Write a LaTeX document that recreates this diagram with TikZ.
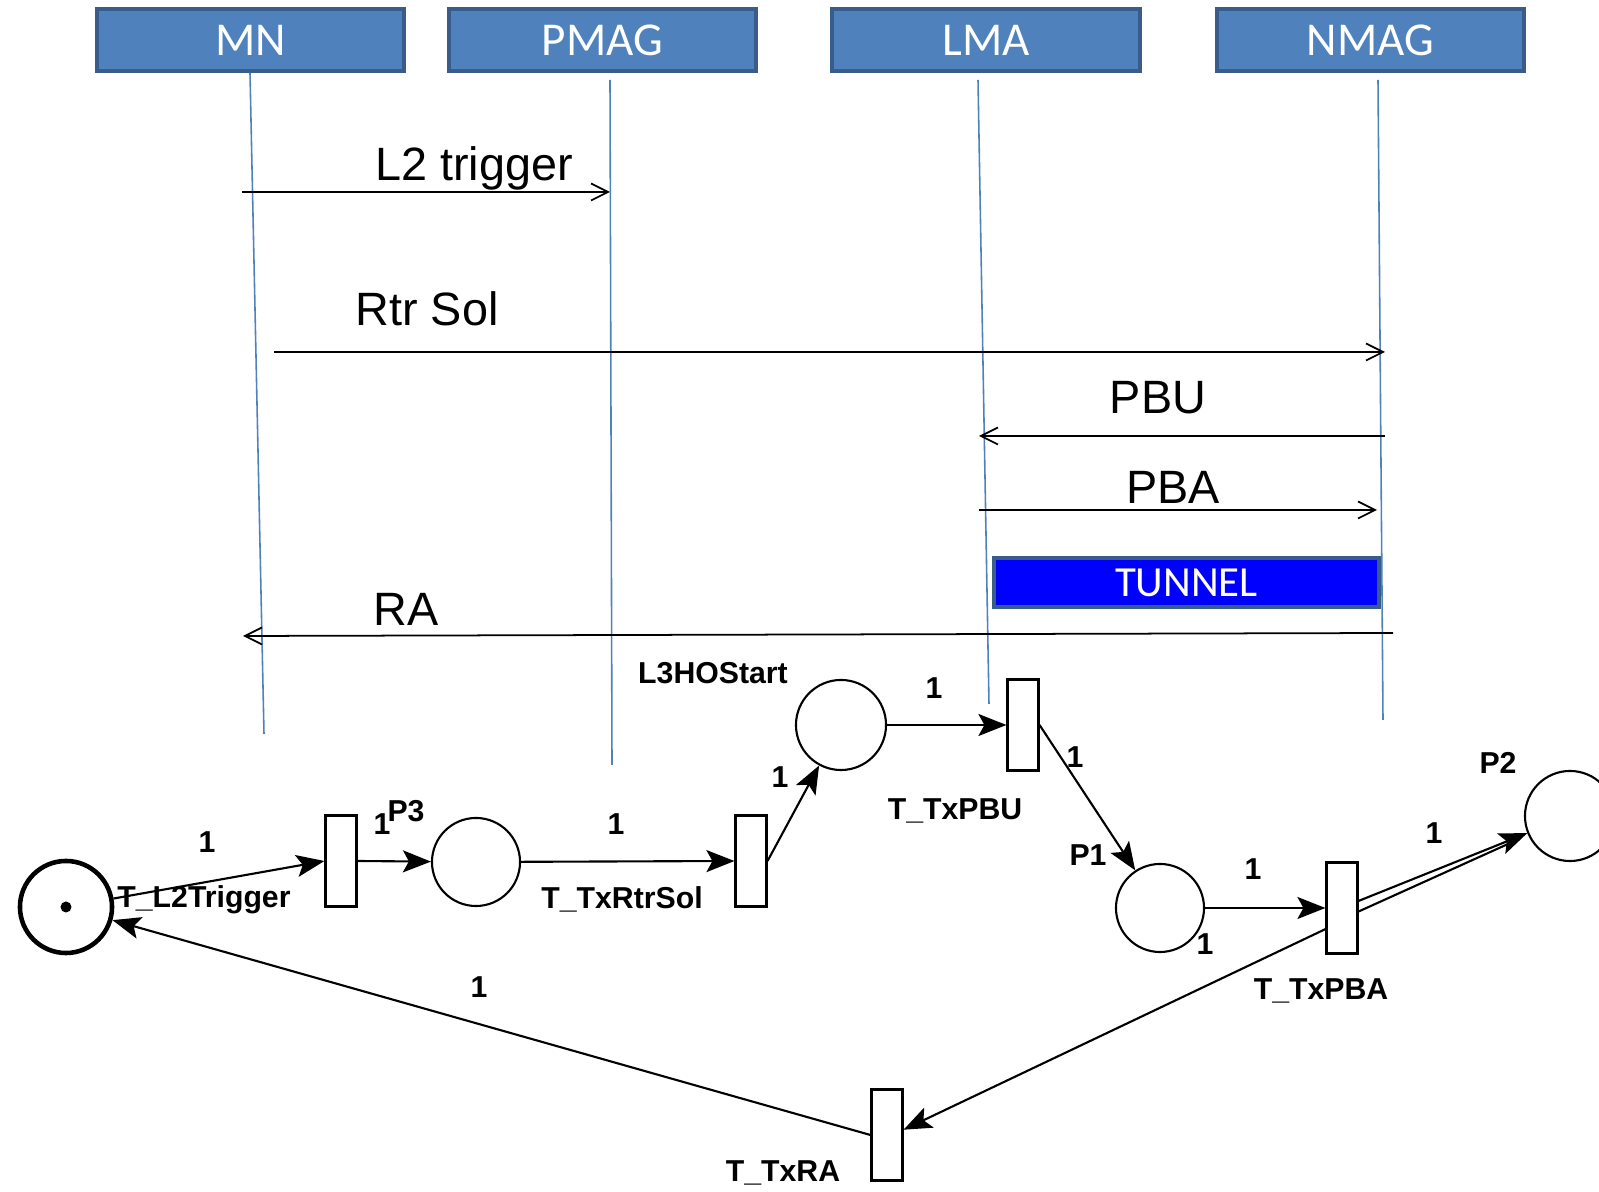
\documentclass[tikz,border=0pt]{standalone}
\usepackage{fontspec}
\setmainfont{Liberation Sans}
\newfontfamily\hdrfont{Carlito}
\usetikzlibrary{arrows.meta}
\definecolor{hdrblue}{RGB}{79,129,189}
\definecolor{hdrline}{RGB}{56,93,138}
\definecolor{tunnelblue}{RGB}{0,0,255}
\tikzset{
  header/.style={draw=hdrline,line width=1.1pt,fill=hdrblue,text=white,
    minimum width=3.07cm,minimum height=0.62cm,inner sep=0pt,
    font=\hdrfont\fontsize{13.4}{16}\selectfont},
  lifeline/.style={hdrblue,line width=0.45pt},
  message/.style={line width=0.5pt,-{Straight Barb[length=1.7mm,width=1.7mm]}},
  msglabel/.style={font=\fontsize{13.3}{16}\selectfont,inner sep=0pt},
  place/.style={circle,draw,line width=0.6pt,minimum size=0.88cm,inner sep=0pt},
  transition/.style={rectangle,draw,line width=0.6pt,minimum width=0.31cm,
    minimum height=0.91cm,inner sep=0pt},
  netarc/.style={line width=0.6pt,-{Stealth[length=2.8mm,width=2.2mm,inset=0.6mm]}},
  netlabel/.style={font=\bfseries\fontsize{8.6}{10}\selectfont,inner sep=0pt},
}
\begin{document}
\begin{tikzpicture}[x=0.01cm,y=-0.01cm]
  \useasboundingbox (0,0) rectangle (1599,1192);
  \clip (0,0) rectangle (1599,1192);

  \node [header] (MN) at (250.5,40) {MN};
  \node [header] (PMAG) at (602.5,40) {PMAG};
  \node [header] (LMA) at (986,40) {LMA};
  \node [header] (NMAG) at (1370.5,40) {NMAG};

  \coordinate (MN top) at (250,73);
  \coordinate (MN bottom) at (264,734);
  \coordinate (PMAG top) at (610,80);
  \coordinate (PMAG bottom) at (612,765);
  \coordinate (LMA top) at (978,80);
  \coordinate (LMA bottom) at (989,704);
  \coordinate (NMAG top) at (1378,80);
  \coordinate (NMAG bottom) at (1383,720);
  \foreach \n in {MN,PMAG,LMA,NMAG}{
    \draw [lifeline] (\n\space top) -- (\n\space bottom);
  }

  \coordinate (L2 from) at (242,192);
  \coordinate (L2 to) at (610,192);
  \coordinate (Sol from) at (274,352);
  \coordinate (Sol to) at (1385,352);
  \coordinate (PBU from) at (1385,436);
  \coordinate (PBU to) at (979,436);
  \coordinate (PBA from) at (979,510);
  \coordinate (PBA to) at (1377,510);
  \coordinate (RA from) at (1393,633);
  \coordinate (RA to) at (243,636);

  \draw [message] (L2 from) -- (L2 to);
  \node [msglabel] (L2 label) at (474,168) {L2 trigger};
  \draw [message] (Sol from) -- (Sol to);
  \node [msglabel] (Sol label) at (427,309) {Rtr Sol};
  \draw [message] (PBU from) -- (PBU to);
  \node [msglabel] (PBU label) at (1158,398) {PBU};
  \draw [message] (PBA from) -- (PBA to);
  \node [msglabel] (PBA label) at (1173,487) {PBA};
  \draw [message] (RA from) -- (RA to);
  \node [msglabel] (RA label) at (406,609) {RA};

  \node [header,fill=tunnelblue,minimum width=3.85cm,minimum height=0.49cm,
    font=\hdrfont\fontsize{12.2}{14}\selectfont] (TUNNEL) at (1186.5,582.5) {TUNNEL};

  \node [place,line width=1.3pt,minimum size=0.92cm] (P0) at (66,907) {};
  \fill (P0.center) circle [radius=0.055cm];
  \node [transition] (TL2) at (341,861) {};
  \node [place] (P3) at (476,862) {};
  \node [transition] (TRtrSol) at (751,861) {};
  \node [place,minimum size=0.9cm] (L3HO) at (841,725) {};
  \node [transition] (TPBU) at (1023,725) {};
  \node [place] (P1) at (1160,908) {};
  \node [transition] (TPBA) at (1342,908) {};
  \node [place,minimum size=0.9cm] (P2) at (1570,816) {};
  \node [transition] (TRA) at (887,1135) {};

  \draw [netarc] (P0) -- (TL2.west);
  \draw [netarc] (TL2.east) -- (P3);
  \draw [netarc] (P3) -- (TRtrSol.west);
  \draw [netarc] (TRtrSol.east) -- (L3HO);
  \draw [netarc] (L3HO) -- (TPBU.west);
  \draw [netarc] (TPBU.east) -- (P1);
  \draw [netarc] (P1) -- (TPBA.west);
  \draw [netarc] ([yshift=2pt]TPBA.east) -- (P2);
  \draw [line width=0.6pt,shorten >=2mm] ([yshift=-1pt]TPBA.east) -- (P2);
  \draw [netarc] ([yshift=-6pt]TPBA.west) -- ([yshift=1.5pt]TRA.east);
  \draw [netarc] (TRA.west) -- (P0);

  \node [netlabel] (w1) at (207,842) {1};
  \node [netlabel] (nTL2) at (204,900) {T\_L2Trigger};
  \node [netlabel] (w2) at (382,824) {1};
  \node [netlabel] (nP3) at (406,811) {P3};
  \node [netlabel] (w3) at (616,824) {1};
  \node [netlabel] (nTRtrSol) at (622,899) {T\_TxRtrSol};
  \node [netlabel] (w4) at (780,777) {1};
  \node [netlabel] (nL3HO) at (713,673) {L3HOStart};
  \node [netlabel] (w5) at (934,688) {1};
  \node [netlabel] (nTPBU) at (955,811) {T\_TxPBU};
  \node [netlabel] (w6) at (1075,757) {1};
  \node [netlabel] (nP1) at (1088,855) {P1};
  \node [netlabel] (w7) at (1253,869) {1};
  \node [netlabel] (w8) at (1205,944) {1};
  \node [netlabel] (nTPBA) at (1321,991) {T\_TxPBA};
  \node [netlabel] (w9) at (1434,833) {1};
  \node [netlabel] (nP2) at (1498,763) {P2};
  \node [netlabel] (w10) at (479,987) {1};
  \node [netlabel] (nTRA) at (783,1173) {T\_TxRA};
\end{tikzpicture}
\end{document}
